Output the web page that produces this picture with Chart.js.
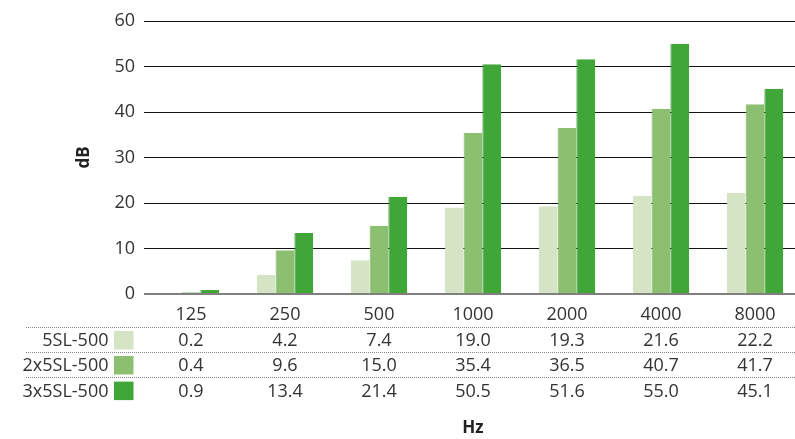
<!DOCTYPE html>
<html>
<head>
<meta charset="utf-8">
<script src="https://cdn.jsdelivr.net/npm/chart.js@4.4.1/dist/chart.umd.min.js"></script>
<style>
  html, body { margin: 0; padding: 0; background: #fff; overflow: hidden; }
  #wrap { width: 802px; height: 439px; position: relative; }
</style>
</head>
<body>
<div id="wrap"><canvas id="chart"></canvas></div>
<script>
// attenuation per octave band, one array per configuration
const frequencies = ['125', '250', '500', '1000', '2000', '4000', '8000'];
const seriesNames = ['5SL-500', '2x5SL-500', '3x5SL-500'];
const oneLayer = [0.2, 4.2, 7.4, 19.0, 19.3, 21.6, 22.2];
const twoLayers = [0.4, 9.6, 15.0, 35.4, 36.5, 40.7, 41.7];
const threeLayers = [0.9, 13.4, 21.4, 50.5, 51.6, 55.0, 45.1];
const dbTicks = [0, 10, 20, 30, 40, 50, 60];

const fills = ['#d4e4c5', '#8dbf70', '#40a637'];
const edges = ['#c9dcb8', '#7aaf5e', '#2f8a2a'];
const font = '"Open Sans", "Noto Sans", sans-serif';
const textColor = '#333333';
const rowCenters = [340, 365, 390.6];

// data table under the x axis
const valueTable = {
  id: 'valueTable',
  afterDraw(chart) {
    const ctx = chart.ctx;
    const xs = chart.scales.x;
    const rows = [oneLayer, twoLayers, threeLayers];
    ctx.save();
    rows.forEach((vals, r) => {
      const cy = rowCenters[r];
      const lineY = cy - 13.5;
      ctx.strokeStyle = '#888';
      ctx.lineWidth = 1;
      ctx.setLineDash([1, 1]);
      ctx.beginPath();
      ctx.moveTo(26, Math.round(lineY) + 0.5);
      ctx.lineTo(chart.width, Math.round(lineY) + 0.5);
      ctx.stroke();

      ctx.fillStyle = fills[r];
      ctx.fillRect(114, cy - 9, 19.5, 18.5);

      ctx.fillStyle = textColor;
      ctx.font = '18px ' + font;
      ctx.textBaseline = 'middle';
      ctx.textAlign = 'right';
      ctx.fillText(seriesNames[r], 108.5, cy + 1.3);
      ctx.textAlign = 'center';
      vals.forEach((v, i) => {
        ctx.fillText(v.toFixed(1), xs.getPixelForValue(i), cy + 1.3);
      });
    });
    ctx.restore();
  }
};

const datasets = [oneLayer, twoLayers, threeLayers].map((vals, i) => ({
  label: seriesNames[i],
  data: vals,
  backgroundColor: fills[i],
  borderColor: edges[i],
  borderWidth: { left: 1, top: 0, right: 0, bottom: 0 },
  borderSkipped: false,
  categoryPercentage: 0.6,
  barPercentage: 1.0
}));

new Chart(document.getElementById('chart'), {
  type: 'bar',
  data: { labels: frequencies, datasets: datasets },
  options: {
    responsive: true,
    maintainAspectRatio: false,
    animation: false,
    events: [],
    layout: { padding: { top: 21, left: 0, right: 0, bottom: 0 } },
    plugins: {
      legend: { display: false },
      tooltip: { enabled: false }
    },
    scales: {
      x: {
        grid: { display: false, drawTicks: false },
        border: { display: false },
        ticks: { color: textColor, font: { family: font, size: 18 }, padding: 10 },
        title: {
          display: true,
          text: 'Hz',
          color: '#222',
          font: { family: font, size: 17, weight: 'bold' },
          padding: { top: 0, bottom: 1 }
        },
        afterFit(scale) { scale.height = 145; }
      },
      y: {
        min: 0,
        max: 60,
        z: 1,
        afterBuildTicks(scale) { scale.ticks = dbTicks.map(v => ({ value: v })); },
        grid: {
          drawTicks: false,
          color: c => c.tick && c.tick.value === 0 ? '#808080' : '#111',
          lineWidth: c => c.tick && c.tick.value === 0 ? 2 : 1
        },
        border: { display: false },
        ticks: { color: textColor, font: { family: font, size: 18 }, padding: 9 },
        title: {
          display: true,
          text: 'dB',
          color: '#222',
          font: { family: font, size: 17, weight: 'bold' },
          padding: { top: 73.5, bottom: 0 }
        },
        afterFit(scale) { scale.width = 144; }
      }
    }
  },
  plugins: [valueTable]
});
</script>
</body>
</html>
